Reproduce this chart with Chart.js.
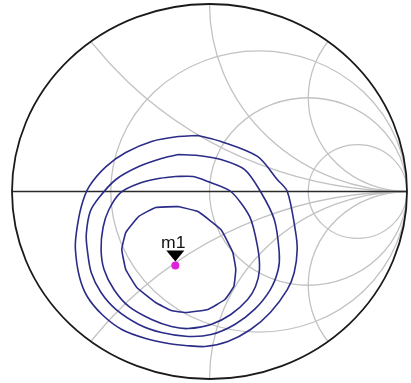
<!DOCTYPE html>
<html>
<head>
<meta charset="utf-8">
<script src="https://cdn.jsdelivr.net/npm/chart.js@4.4.1/dist/chart.umd.min.js"></script>
<style>
  html, body { margin: 0; padding: 0; background: #fff; }
  #wrap { position: relative; width: 411px; height: 383px; }
</style>
</head>
<body>
<div id="wrap"><canvas id="smith"></canvas></div>
<script>
// Smith chart grid values
const R_CIRCLES = [1 / 3, 1, 3];
const X_ARCS = [0.5, 1, 2];

// Load-pull contours, reflection coefficient [re, im]
const contour1 = [[-0.058, 0.299], [0.058, 0.267], [0.243, 0.187], [0.343, 0.064], [0.394, 0], [0.434, -0.203], [0.444, -0.309], [0.429, -0.432], [0.394, -0.523], [0.308, -0.645], [0.208, -0.736], [0.093, -0.800], [-0.023, -0.827], [-0.123, -0.821], [-0.208, -0.811], [-0.323, -0.784], [-0.444, -0.736], [-0.544, -0.656], [-0.619, -0.560], [-0.659, -0.453], [-0.679, -0.309], [-0.674, -0.219], [-0.649, -0.080], [-0.609, 0.027], [-0.524, 0.133], [-0.424, 0.208], [-0.293, 0.267], [-0.158, 0.293]];
const contour2 = [[-0.158, 0.197], [-0.058, 0.192], [0.058, 0.171], [0.178, 0.117], [0.258, 0], [0.328, -0.149], [0.353, -0.325], [0.348, -0.416], [0.308, -0.523], [0.228, -0.629], [0.128, -0.709], [0.008, -0.763], [-0.108, -0.773], [-0.243, -0.752], [-0.358, -0.709], [-0.474, -0.629], [-0.549, -0.539], [-0.599, -0.432], [-0.619, -0.309], [-0.624, -0.229], [-0.604, -0.107], [-0.559, -0.032], [-0.474, 0.064], [-0.358, 0.133], [-0.243, 0.176]];
const contour3 = [[-0.173, 0.080], [-0.083, 0.080], [-0.008, 0.053], [0.108, 0], [0.203, -0.133], [0.243, -0.293], [0.253, -0.416], [0.233, -0.507], [0.193, -0.576], [0.108, -0.656], [0.008, -0.709], [-0.108, -0.731], [-0.193, -0.720], [-0.293, -0.683], [-0.409, -0.613], [-0.484, -0.523], [-0.534, -0.416], [-0.549, -0.309], [-0.539, -0.192], [-0.509, -0.096], [-0.449, -0.005], [-0.358, 0.043], [-0.258, 0.069]];
const contour4 = [[-0.158, -0.080], [-0.058, -0.107], [0.058, -0.203], [0.118, -0.325], [0.133, -0.416], [0.123, -0.507], [0.078, -0.576], [-0.008, -0.629], [-0.123, -0.645], [-0.193, -0.635], [-0.273, -0.592], [-0.368, -0.512], [-0.424, -0.416], [-0.444, -0.309], [-0.424, -0.219], [-0.358, -0.133], [-0.273, -0.085]];

const markerGamma = [-0.173, -0.395];
const markerLabel = 'm1';

const CONTOUR_COLOR = '#2b2b88';
const GRID_COLOR = '#c2c2c2';

function toPoints(list) {
    const pts = list.map(([re, im]) => ({ x: re, y: im }));
    pts.push(pts[0]); // close the loop
    return pts;
}

const smithGrid = {
    id: 'smithGrid',
    beforeDatasetsDraw(chart) {
        const { ctx, scales: { x, y } } = chart;
        const px = v => x.getPixelForValue(v);
        const py = v => y.getPixelForValue(v);
        const sx = v => Math.abs(px(v) - px(0));
        const sy = v => Math.abs(py(0) - py(v));

        ctx.save();
        ctx.beginPath();
        ctx.ellipse(px(0), py(0), sx(1), sy(1), 0, 0, Math.PI * 2);
        ctx.clip();
        ctx.strokeStyle = GRID_COLOR;
        ctx.lineWidth = 1.3;

        R_CIRCLES.forEach(r => {
            const c = r / (1 + r), rad = 1 / (1 + r);
            ctx.beginPath();
            ctx.ellipse(px(c), py(0), sx(rad), sy(rad), 0, 0, Math.PI * 2);
            ctx.stroke();
        });
        X_ARCS.forEach(xv => {
            [xv, -xv].forEach(v => {
                const rad = 1 / xv;
                ctx.beginPath();
                ctx.ellipse(px(1), py(1 / v), sx(rad), sy(rad), 0, 0, Math.PI * 2);
                ctx.stroke();
            });
        });
        ctx.restore();

        // real axis
        ctx.save();
        ctx.strokeStyle = '#2a2a2a';
        ctx.lineWidth = 1.6;
        ctx.beginPath();
        ctx.moveTo(px(-1), py(0));
        ctx.lineTo(px(1), py(0));
        ctx.stroke();

        // outer |gamma| = 1 circle
        ctx.strokeStyle = '#1a1a1a';
        ctx.lineWidth = 1.8;
        ctx.beginPath();
        ctx.ellipse(px(0), py(0), sx(1), sy(1), 0, 0, Math.PI * 2);
        ctx.stroke();
        ctx.restore();
    },
    afterDatasetsDraw(chart) {
        const { ctx, scales: { x, y } } = chart;
        const mx = x.getPixelForValue(markerGamma[0]);
        const my = y.getPixelForValue(markerGamma[1]);
        ctx.save();
        ctx.fillStyle = '#000';
        ctx.beginPath();
        ctx.moveTo(mx - 9, my - 15);
        ctx.lineTo(mx + 9, my - 15);
        ctx.lineTo(mx, my - 4);
        ctx.closePath();
        ctx.fill();

        ctx.translate(mx - 2, my - 18);
        ctx.scale(1.1, 1);
        ctx.font = '16px "Liberation Sans", Arial, sans-serif';
        ctx.textAlign = 'center';
        ctx.textBaseline = 'alphabetic';
        ctx.fillStyle = '#111';
        ctx.fillText(markerLabel, 0, 0);
        ctx.restore();
    }
};

const contourSet = (list, tension) => ({
    data: toPoints(list),
    showLine: true,
    borderColor: CONTOUR_COLOR,
    borderWidth: 1.6,
    pointRadius: 0,
    tension: tension,
    fill: false
});

new Chart(document.getElementById('smith'), {
    type: 'scatter',
    data: {
        datasets: [
            contourSet(contour1, 0.3),
            contourSet(contour2, 0.3),
            contourSet(contour3, 0.25),
            contourSet(contour4, 0.1),
            {
                data: [{ x: markerGamma[0], y: markerGamma[1] }],
                pointRadius: 4,
                pointBackgroundColor: '#e020d8',
                pointBorderWidth: 0,
                showLine: false
            }
        ]
    },
    options: {
        responsive: true,
        maintainAspectRatio: false,
        animation: false,
        layout: { padding: { left: 12, right: 0, top: 4, bottom: 4 } },
        plugins: { legend: { display: false }, tooltip: { enabled: false } },
        scales: {
            x: { type: 'linear', min: -1, max: 1, display: false },
            y: { type: 'linear', min: -1, max: 1, display: false }
        }
    },
    plugins: [smithGrid]
});
</script>
</body>
</html>
